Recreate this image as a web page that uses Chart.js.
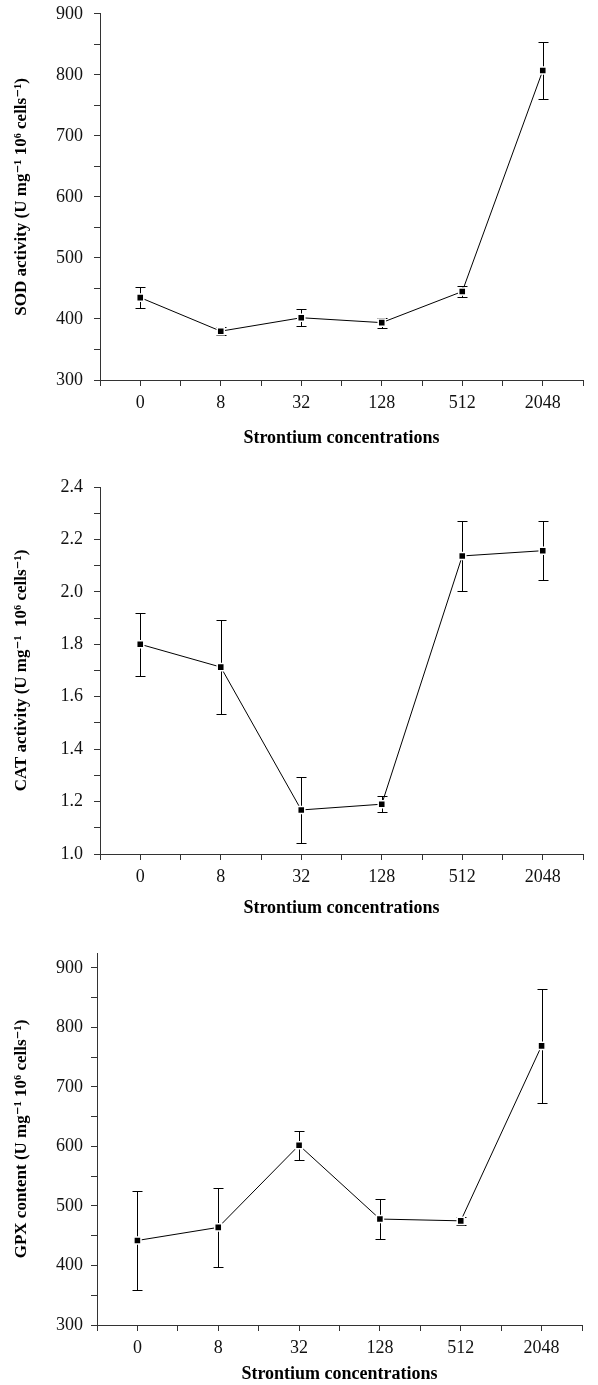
<!DOCTYPE html>
<html>
<head>
<meta charset="utf-8">
<script src="https://cdn.jsdelivr.net/npm/chart.js@4.4.0/dist/chart.umd.min.js"></script>
<style>
body { margin: 0; background: #fff; overflow: hidden; }
.box { position: relative; width: 598px; }
</style>
</head>
<body>
<div class="box" style="height:468px;margin-top:-8px"><canvas id="sodChart"></canvas></div>
<div class="box" style="height:470px"><canvas id="catChart"></canvas></div>
<div class="box" style="height:455px"><canvas id="gpxChart"></canvas></div>
<script>
// strontium concentrations (x axis)
var concLabels = ['0', '8', '32', '128', '512', '2048'];

// SOD activity, mean and +/- error
var sodMean = [435, 380, 402, 394, 445, 807];
var sodErr = [17, 7, 14, 8, 9, 46];

// CAT activity
var catMean = [1.80, 1.713, 1.168, 1.19, 2.137, 2.157];
var catErr = [0.12, 0.18, 0.127, 0.03, 0.135, 0.113];

// GPX content
var gpxMean = [442, 464, 602, 478, 475, 769];
var gpxErr = [83, 67, 24, 33, 7, 96];

var serif = '"Liberation Serif", "DejaVu Serif", serif';
Chart.defaults.font.family = serif;
Chart.defaults.color = '#000';

// vertical error bars with caps, drawn under the line and markers
var errorBars = {
  id: 'errorBars',
  beforeDatasetsDraw: function(chart, args, opts) {
    var ctx = chart.ctx;
    var ys = chart.scales.y;
    var ds = chart.data.datasets[0];
    var meta = chart.getDatasetMeta(0);
    ctx.save();
    ctx.strokeStyle = '#000';
    ctx.lineWidth = 1;
    meta.data.forEach(function(pt, i) {
      var v = ds.data[i].y;
      var x = Math.round(pt.x) + 0.5;
      var top = Math.round(ys.getPixelForValue(v + opts.err[i])) + 0.5;
      var bot = Math.round(ys.getPixelForValue(v - opts.err[i])) + 0.5;
      ctx.beginPath();
      ctx.moveTo(x, top); ctx.lineTo(x, bot);
      ctx.moveTo(x - 5, top); ctx.lineTo(x + 5, top);
      ctx.moveTo(x - 5, bot); ctx.lineTo(x + 5, bot);
      ctx.stroke();
    });
    ctx.restore();
  }
};

function makeChart(id, mean, err, yTitle, yScale, sizes) {
  var pts = concLabels.map(function(c, i) { return { x: i, y: mean[i] }; });
  var y = Object.assign({
    position: 'left',
    border: { color: '#333', width: 1 },
    grid: { drawOnChartArea: false, drawTicks: true, tickLength: 6, color: '#333' },
    title: {
      display: true, text: yTitle, color: '#000',
      font: { family: serif, size: 17, weight: 'bold' },
      padding: { top: 11, bottom: 0 }
    },
    afterFit: function(s) { s.width = sizes.left; }
  }, yScale);
  y.ticks = Object.assign({ autoSkip: false, padding: sizes.tickPad, color: '#111', font: { size: 18 } }, yScale.ticks);

  return new Chart(id, {
    type: 'line',
    data: {
      datasets: [{
        data: pts,
        borderColor: '#000',
        borderWidth: 1,
        pointStyle: 'rect',
        pointRadius: 5,
        pointBackgroundColor: '#000',
        pointBorderColor: '#fff',
        pointBorderWidth: 1.5,
        tension: 0
      }]
    },
    plugins: [errorBars],
    options: {
      responsive: true,
      maintainAspectRatio: false,
      animation: false,
      events: [],
      layout: { padding: { top: sizes.top, right: sizes.right, bottom: sizes.bottom, left: 0 } },
      plugins: {
        legend: { display: false },
        tooltip: { enabled: false },
        errorBars: { err: err }
      },
      scales: {
        x: {
          type: 'linear',
          min: -0.5,
          max: 5.5,
          border: { color: '#333', width: 1 },
          grid: { drawOnChartArea: false, drawTicks: true, tickLength: 6, color: '#333' },
          ticks: {
            stepSize: 0.5,
            autoSkip: false,
            maxRotation: 0,
            padding: 6,
            color: '#111',
            font: { size: 18 },
            callback: function(v) { return Number.isInteger(v) ? concLabels[v] : ''; }
          },
          title: {
            display: true, text: 'Strontium concentrations', color: '#000',
            font: { family: serif, size: 18, weight: 'bold' },
            padding: { top: 0, bottom: 0 }
          },
          afterFit: function(s) { s.height = sizes.xh; }
        },
        y: y
      }
    }
  });
}

makeChart('sodChart', sodMean, sodErr, 'SOD activity (U mg\u207B\u00B9 10\u2076 cells\u207B\u00B9)', {
  min: 300, max: 900,
  ticks: { stepSize: 50, callback: function(v) { return v % 100 === 0 ? v : ''; } }
}, { left: 100, right: 15, top: 20, bottom: 11, xh: 69, tickPad: 11 });

makeChart('catChart', catMean, catErr, 'CAT activity (U mg\u207B\u00B9  10\u2076 cells\u207B\u00B9)', {
  min: 1.0, max: 2.4,
  ticks: { stepSize: 0.1, callback: function(v) { var k = Math.round(v * 10); return k % 2 === 0 ? (k / 10).toFixed(1) : ''; } }
}, { left: 100, right: 15, top: 27, bottom: 11, xh: 65, tickPad: 11 });

makeChart('gpxChart', gpxMean, gpxErr, 'GPX content (U mg\u207B\u00B9 10\u2076 cells\u207B\u00B9)', {
  min: 300, max: 925,
  ticks: { stepSize: 50, includeBounds: false, callback: function(v) { return v % 100 === 0 ? v : ''; } }
}, { left: 97, right: 16, top: 23, bottom: 0, xh: 60, tickPad: 8 });
</script>
</body>
</html>
